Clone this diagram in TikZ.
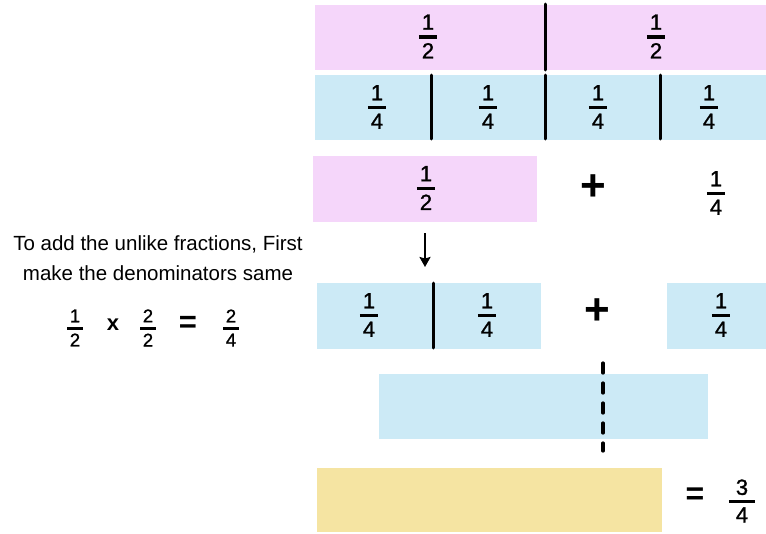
\documentclass[tikz,border=0pt]{standalone}
\usepackage{fontspec}
\setmainfont{Liberation Sans}
\newfontfamily\numfont[FakeBold=1.2]{Liberation Sans}
\usetikzlibrary{arrows.meta}

% stacked fraction: numerator, thick bar, denominator
\newcommand{\fr}[2]{\vbox{\offinterlineskip\halign{\hfil##\hfil\cr
  #1\cr\noalign{\kern0.26em}\rule{0.82em}{0.15em}\cr\noalign{\kern0.2em}#2\cr}}}
\newcommand{\frw}[2]{\vbox{\offinterlineskip\halign{\hfil##\hfil\cr
  #1\cr\noalign{\kern0.22em}\rule{1.2em}{0.12em}\cr\noalign{\kern0.22em}#2\cr}}}

\definecolor{halfpink}{HTML}{F5D6FA}
\definecolor{quarterblue}{HTML}{CCEAF6}
\definecolor{sumyellow}{HTML}{F5E4A2}

\tikzset{
  bar/.style={inner sep=0pt, outer sep=0pt, anchor=north west},
  pinkbar/.style={bar, fill=halfpink},
  bluebar/.style={bar, fill=quarterblue},
  yellowbar/.style={bar, fill=sumyellow},
  fraclbl/.style={inner sep=0pt, font=\fontsize{22}{22}\selectfont\numfont},
  smallfrac/.style={inner sep=0pt, font=\fontsize{18.5}{18.5}\selectfont\numfont},
  opsign/.style={inner sep=0pt, font=\fontsize{44}{44}\selectfont\bfseries},
  eqsign/.style={inner sep=0pt, font=\fontsize{32}{32}\selectfont\bfseries},
  divider/.style={line width=3pt, line cap=round},
  note/.style={inner sep=0pt, font=\fontsize{20.5}{20.5}\selectfont},
}

\begin{document}
\begin{tikzpicture}[x=1pt,y=-1pt]
\useasboundingbox (0,0) rectangle (766,533);

% row 1: two halves
\node[pinkbar, minimum width=451pt, minimum height=65pt] (half) at (315,5) {};
\draw[divider] (545,4) -- (545,70);
\node[fraclbl] (h1) at (428,36.5) {\fr{1}{2}};
\node[fraclbl] (h2) at (656,36.5) {\fr{1}{2}};

% row 2: four quarters
\node[bluebar, minimum width=451pt, minimum height=65pt] (quart) at (315,75) {};
\draw[divider] (431,75) -- (431,139);
\draw[divider] (545,75) -- (545,139);
\draw[divider] (660,75) -- (660,139);
\node[fraclbl] (q1) at (377,107) {\fr{1}{4}};
\node[fraclbl] (q2) at (488,107) {\fr{1}{4}};
\node[fraclbl] (q3) at (598,107) {\fr{1}{4}};
\node[fraclbl] (q4) at (709,107) {\fr{1}{4}};

% row 3: one half plus one quarter
\node[pinkbar, minimum width=224pt, minimum height=66pt] (addhalf) at (313,156) {};
\node[fraclbl] (ah) at (426,188) {\fr{1}{2}};
\node[opsign] (plus1) at (593,187.5) {+};
\node[fraclbl] (aq) at (716,193) {\fr{1}{4}};

% conversion arrow
\draw[line width=2.5pt, -{Stealth[length=10pt,width=11pt,inset=1.5pt]}]
  ([yshift=-11pt]addhalf.south) -- ([yshift=-45pt]addhalf.south);

% row 4: two quarters plus one quarter
\node[bluebar, minimum width=224pt, minimum height=66pt] (twoq) at (317,283) {};
\draw[divider] (433,283) -- (433,348);
\node[fraclbl] (tq1) at (369,315) {\fr{1}{4}};
\node[fraclbl] (tq2) at (487,315) {\fr{1}{4}};
\node[opsign] (plus2) at (597,312) {+};
\node[bluebar, minimum width=99pt, minimum height=66pt] (oneq) at (667,283) {};
\node[fraclbl] (oq) at (721,315) {\fr{1}{4}};

% row 5: three quarters joined
\node[bluebar, minimum width=329pt, minimum height=65pt] (joined) at (379,374) {};
\draw[line width=3.2pt, line cap=round, dash pattern=on 10pt off 10pt] (603,363) -- (603,451);

% row 6: result
\node[yellowbar, minimum width=345pt, minimum height=64pt] (result) at (317,468) {};
\node[eqsign] (eq) at (695,496) {=};
\node[inner sep=0pt, font=\fontsize{22}{22}\selectfont\numfont] (res) at (742,501) {\frw{3}{4}};

% note on the left
\node[note] (n1) at (158,244) {To add the unlike fractions, First};
\node[note] (n2) at (158,273) {make the denominators same};
\node[smallfrac] (l1) at (75,328) {\fr{1}{2}};
\node[inner sep=0pt, font=\fontsize{22}{22}\selectfont\bfseries] (lx) at (113,325) {x};
\node[smallfrac] (l2) at (148,328) {\fr{2}{2}};
\node[inner sep=0pt, font=\fontsize{31}{31}\selectfont\bfseries] (leq) at (188,324) {=};
\node[smallfrac] (l3) at (231,328) {\fr{2}{4}};
\end{tikzpicture}
\end{document}
